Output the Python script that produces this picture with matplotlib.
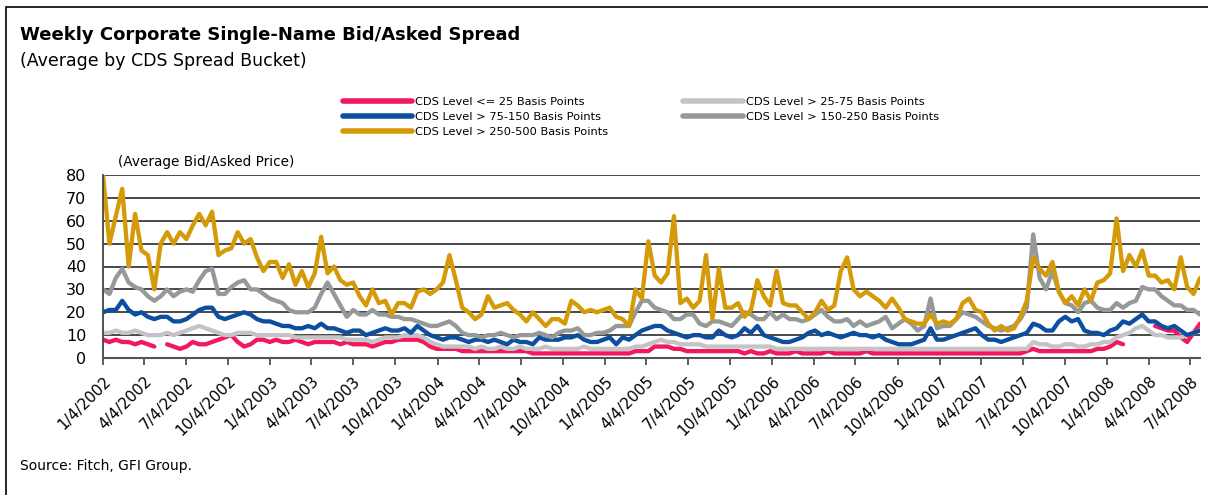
import numpy as np
import pandas as pd
import matplotlib
matplotlib.use("Agg")
import matplotlib.pyplot as plt
from matplotlib.patches import Rectangle

nan = np.nan

# ---------------- data (bi-weekly readings, starting 1/4/2002) ----------------
dates = pd.date_range("2002-01-04", periods=172, freq="14D")

cds_25_500 = (
    [80, 50, 62, 74, 40, 63, 47, 45, 30, 50, 55, 50, 55, 52, 58, 63, 58, 64, 45, 47,
     48, 55, 50, 52, 44, 38, 42, 42, 35, 41, 32, 38, 31, 37, 53, 37, 40, 34, 32, 33,
     27, 23, 30]
    + [24, 25, 19, 24, 24, 22, 29, 30, 28, 30, 33, 45, 34, 22, 20, 17, 19, 27, 22, 23,
       24, 21, 19, 16, 20, 17, 14, 17, 17, 15, 25, 23, 20, 21, 20, 21, 22, 18, 17, 14,
       30, 26]
    + [51, 36, 33, 37, 62, 24, 26, 22, 25, 45, 17, 39, 22, 22, 24, 18, 21, 34, 27, 23,
       38, 24, 23, 23, 20, 17, 20, 25, 21, 23, 38, 44, 30, 27, 29, 27, 25, 22, 26, 22,
       17, 16, 15, 15]
    + [19, 15, 16, 15, 17, 24, 26, 21, 20, 15, 12, 14, 12, 13, 18, 25, 44, 39, 36, 42,
       29, 24, 27, 23, 30, 25, 33, 34, 37, 61, 38, 45, 40, 47, 36, 36, 33, 34, 30, 44,
       31, 28, 35]
)

cds_150_250 = (
    [30, 28, 35, 39, 33, 31, 30, 27, 25, 27, 30, 27, 29, 30, 29, 34, 38, 39, 28, 28,
     31, 33, 34, 30, 30, 28, 26, 25, 24, 21, 20, 20, 20, 22, 28, 33, 28, 23, 18, 21,
     19, 19, 21]
    + [19, 19, 18, 18, 17, 17, 16, 15, 14, 14, 15, 16, 14, 11, 10, 10, 9, 10, 10, 11,
       10, 9, 10, 10, 10, 11, 10, 9, 11, 12, 12, 13, 10, 10, 11, 11, 12, 14, 14, 14,
       20, 25]
    + [25, 22, 21, 20, 17, 17, 19, 19, 15, 14, 16, 16, 15, 14, 17, 20, 19, 17, 17, 20,
       17, 19, 17, 17, 16, 17, 19, 21, 18, 16, 16, 17, 14, 16, 14, 15, 16, 18, 13, 15,
       17, 15, 12, 14]
    + [26, 13, 14, 14, 17, 20, 19, 18, 16, 14, 13, 12, 13, 14, 17, 22, 54, 35, 30, 38,
       29, 24, 23, 20, 24, 25, 22, 21, 21, 24, 22, 24, 25, 31, 30, 30, 27, 25, 23, 23,
       21, 21, 19]
)

cds_75_150 = (
    [20, 21, 21, 25, 21, 19, 20, 18, 17, 18, 18, 16, 16, 17, 19, 21, 22, 22, 18, 17,
     18, 19, 20, 19, 17, 16, 16, 15, 14, 14, 13, 13, 14, 13, 15, 13, 13, 12, 11, 12,
     12, 10, 11]
    + [12, 13, 12, 12, 13, 11, 14, 12, 10, 9, 8, 9, 9, 8, 7, 8, 8, 7, 8, 7,
       6, 8, 7, 7, 6, 9, 8, 8, 8, 9, 9, 10, 8, 7, 7, 8, 9, 6, 9, 8,
       10, 12]
    + [13, 14, 14, 12, 11, 10, 9, 10, 10, 9, 9, 12, 10, 9, 10, 13, 11, 14, 10, 9,
       8, 7, 7, 8, 9, 11, 12, 10, 11, 10, 9, 10, 11, 10, 10, 9, 10, 8, 7, 6,
       6, 6, 7, 8]
    + [13, 8, 8, 9, 10, 11, 12, 13, 10, 8, 8, 7, 8, 9, 10, 11, 15, 14, 12, 12,
       16, 18, 16, 17, 12, 11, 11, 10, 12, 13, 16, 15, 17, 19, 16, 16, 14, 13, 14, 12,
       10, 11, 12]
)

cds_25_75 = (
    [11, 11, 12, 11, 11, 12, 11, 10, 10, 10, 11, 10, 11, 12, 13, 14, 13, 12, 11, 10,
     10, 11, 11, 11, 10, 10, 10, 10, 10, 10, 9, 9, 9, 9, 9, 9, 9, 9, 8, 8,
     8, 8, 7]
    + [8, 9, 9, 9, 10, 10, 10, 9, 7, 6, 5, 5, 5, 5, 5, 4, 5, 4, 4, 5,
       4, 4, 5, 4, 4, 4, 5, 4, 4, 4, 4, 4, 5, 4, 4, 4, 4, 4, 4, 4,
       5, 5]
    + [6, 7, 8, 7, 7, 6, 6, 6, 6, 5, 5, 5, 5, 5, 5, 5, 5, 5, 5, 5,
       4, 4, 4, 4, 4, 4, 4, 4, 4, 4, 4, 4, 4, 4, 4, 4, 4, 4, 4, 4,
       4, 4, 4, 4]
    + [4, 4, 4, 4, 4, 4, 4, 4, 4, 4, 4, 4, 4, 4, 4, 4, 7, 6, 6, 5,
       5, 6, 6, 5, 5, 6, 6, 7, 7, 9, 10, 11, 13, 14, 12, 10, 10, 9, 9, 9,
       10, 11, 12]
)

cds_le_25 = (
    [8, 7, 8, 7, 7, 6, 7, 6, 5, nan, 6, 5, 4, 5, 7, 6, 6, 7, 8, 9,
     10, 7, 5, 6, 8, 8, 7, 8, 7, 7, 8, 7, 6, 7, 7, 7, 7, 6, 7, 6,
     6, 6, 5]
    + [6, 7, 7, 8, 8, 8, 8, 7, 5, 4, 4, 4, 4, 3, 3, 3, 3, 3, 3, 3,
       3, 3, 3, 3, 2, 2, 2, 2, 2, 2, 2, 2, 2, 2, 2, 2, 2, 2, 2, 2,
       3, 3]
    + [3, 5, 5, 5, 4, 4, 3, 3, 3, 3, 3, 3, 3, 3, 3, 2, 3, 2, 2, 3,
       2, 2, 2, 3, 2, 2, 2, 2, 3, 2, 2, 2, 2, 2, 3, 2, 2, 2, 2, 2,
       2, 2, 2, 2]
    + [2, 2, 2, 2, 2, 2, 2, 2, 2, 2, 2, 2, 2, 2, 2, 3, 4, 3, 3, 3,
       3, 3, 3, 3, 3, 3, 4, 4, 5, 7, 6, nan, nan, nan, nan, 14, 13, 12, 12, 9,
       7, 11, 15]
)

tick_dates = [pd.Timestamp(year=y, month=m, day=4)
              for y in range(2002, 2009) for m in (1, 4, 7, 10)
              if pd.Timestamp(year=y, month=m, day=4) <= pd.Timestamp("2008-07-04")]
tick_labels = [f"{d.month}/{d.day}/{d.year}" for d in tick_dates]

labels = {
    "le25": "CDS Level <= 25 Basis Points",
    "25_75": "CDS Level > 25-75 Basis Points",
    "75_150": "CDS Level > 75-150 Basis Points",
    "150_250": "CDS Level > 150-250 Basis Points",
    "250_500": "CDS Level > 250-500 Basis Points",
}
colors = {
    "le25": "#f2185c",
    "25_75": "#c4c4c8",
    "75_150": "#0c4fa0",
    "150_250": "#959a99",
    "250_500": "#d49a08",
}

# ---------------- figure ----------------
plt.rcParams["font.family"] = ["DejaVu Sans"]
fig = plt.figure(figsize=(12.08, 4.95), dpi=100)
fig.patch.set_facecolor("white")

ax = fig.add_axes([103 / 1208, 1 - 358 / 495, (1200 - 103) / 1208, (358 - 175) / 495])

series = [
    ("le25", cds_le_25),
    ("25_75", cds_25_75),
    ("75_150", cds_75_150),
    ("150_250", cds_150_250),
    ("250_500", cds_25_500),
]
handles = {}
for key, vals in series:
    (h,) = ax.plot(dates, np.array(vals, dtype=float), color=colors[key], lw=3.1,
                   solid_joinstyle="round", solid_capstyle="round", label=labels[key])
    handles[key] = h

ax.set_ylim(0, 80)
ax.set_yticks(range(0, 81, 10))
ax.set_xlim(dates[0], dates[-1])
ax.yaxis.grid(True, color="#3a3a3a", lw=1.3)
ax.set_axisbelow(True)
ax.tick_params(axis="y", length=0, pad=12)
ax.set_yticklabels([str(v) for v in range(0, 81, 10)], fontsize=11.5)
ax.set_xticks(tick_dates)
ax.set_xticklabels(tick_labels, rotation=45, ha="right", rotation_mode="anchor", fontsize=11)
ax.tick_params(axis="x", length=5, width=1.2, color="#444444", pad=6)
for s in ["top", "right"]:
    ax.spines[s].set_visible(False)
ax.spines["left"].set_color("#444444")
ax.spines["left"].set_linewidth(1.3)
ax.spines["bottom"].set_color("#555555")
ax.spines["bottom"].set_linewidth(1.5)

# texts
fig.text(20 / 1208, 1 - 35 / 495, "Weekly Corporate Single-Name Bid/Asked Spread",
         fontsize=13, fontweight="bold", va="center", ha="left")
fig.text(20 / 1208, 1 - 61 / 495, "(Average by CDS Spread Bucket)",
         fontsize=12.5, va="center", ha="left")
fig.text(118 / 1208, 1 - 162 / 495, "(Average Bid/Asked Price)",
         fontsize=9.8, va="center", ha="left")
fig.text(20 / 1208, 1 - 466 / 495, "Source: Fitch, GFI Group.",
         fontsize=10, va="center", ha="left")

# legends
fig.legend([handles["le25"], handles["75_150"], handles["250_500"]],
           [labels["le25"], labels["75_150"], labels["250_500"]],
           loc="upper left", bbox_to_anchor=(343 / 1208, 1 - 97 / 495),
           frameon=False, fontsize=8.2, handlelength=6.1, handletextpad=0.2,
           labelspacing=0.45, borderpad=0, borderaxespad=0)
fig.legend([handles["25_75"], handles["150_250"]],
           [labels["25_75"], labels["150_250"]],
           loc="upper left", bbox_to_anchor=(683 / 1208, 1 - 97 / 495),
           frameon=False, fontsize=8.2, handlelength=5.3, handletextpad=0.2,
           labelspacing=0.45, borderpad=0, borderaxespad=0)
for lg in fig.legends:
    for ln in lg.get_lines():
        ln.set_linewidth(4)

# outer frame
fig.add_artist(Rectangle((6 / 1208, -0.2), 1.2, 1.2 - 7 / 495, transform=fig.transFigure,
                         fill=False, edgecolor="black", lw=1.2, clip_on=False))

fig.savefig("out.png", dpi=100, facecolor="white")
